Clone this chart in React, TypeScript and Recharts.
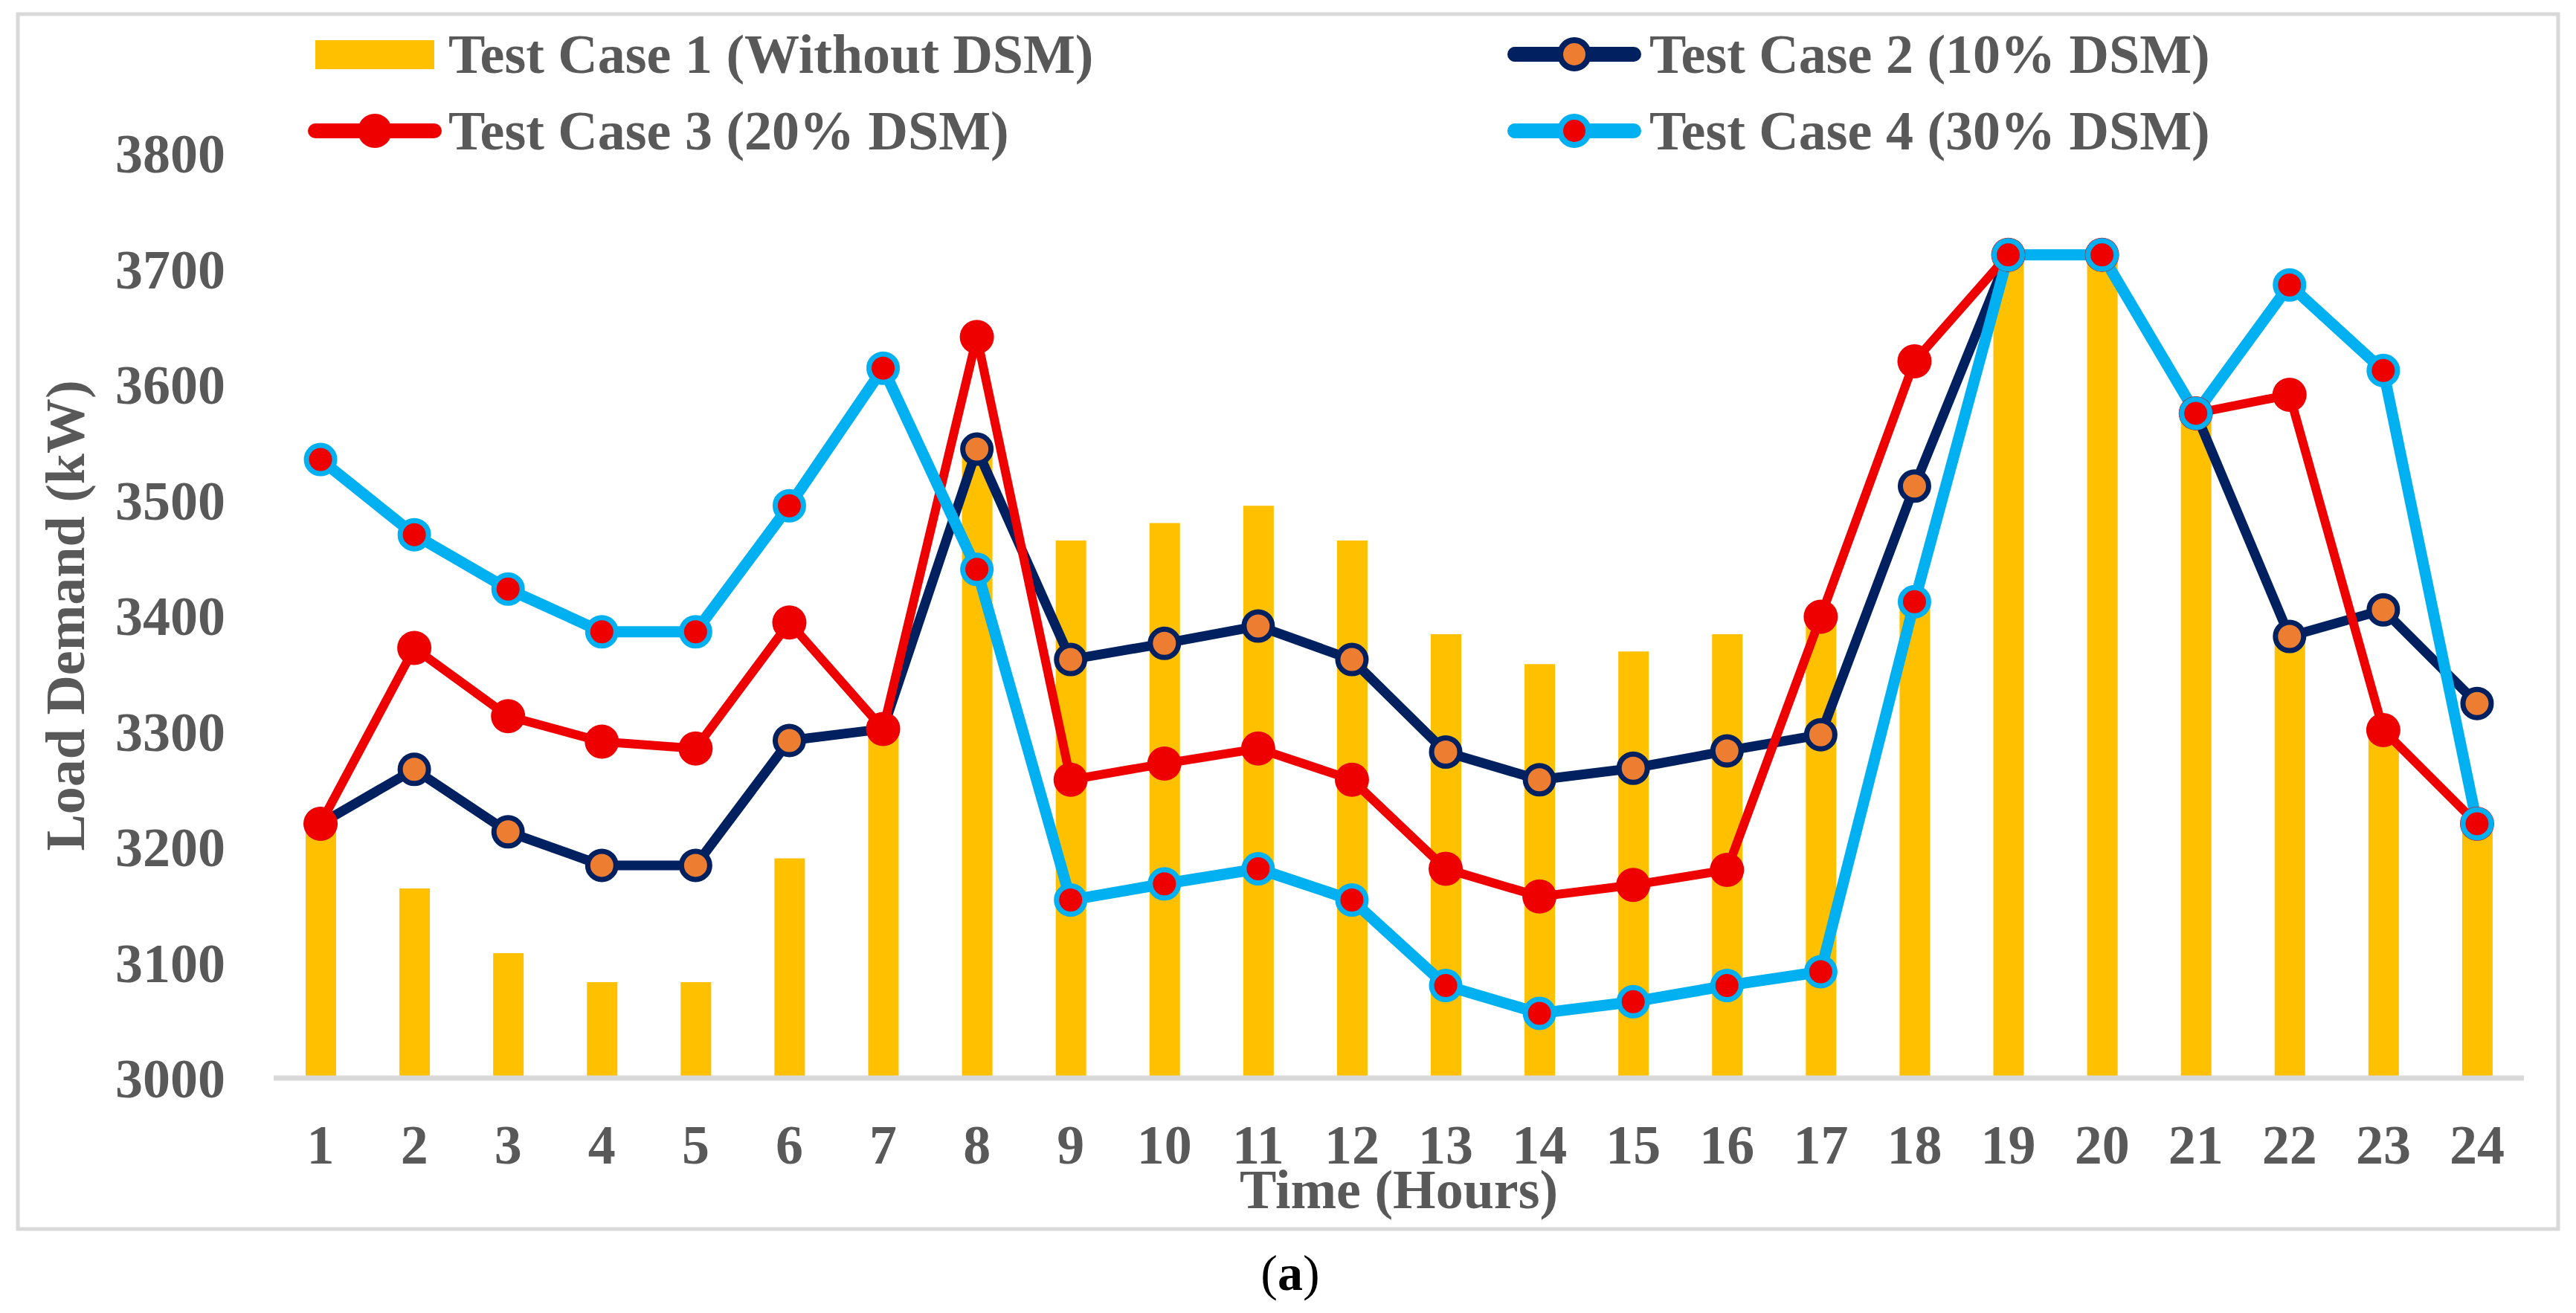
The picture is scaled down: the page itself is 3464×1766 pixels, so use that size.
import React from 'react';
import { ComposedChart, Bar, Line, XAxis, YAxis, Label } from 'recharts';

// hourly load demand (kW)
const hours = [1, 2, 3, 4, 5, 6, 7, 8, 9, 10, 11, 12, 13, 14, 15, 16, 17, 18, 19, 20, 21, 22, 23, 24];
const withoutDsm = [3220, 3164, 3108, 3083, 3083, 3190, 3302, 3545, 3465, 3480, 3495, 3465, 3384, 3358, 3369, 3384, 3399, 3412, 3712, 3712, 3575, 3382, 3301, 3220];
const dsm10 = [3220, 3267, 3213, 3184, 3184, 3292, 3302, 3544, 3362, 3376, 3391, 3362, 3282, 3258, 3268, 3283, 3297, 3512, 3712, 3712, 3575, 3382, 3405, 3324];
const dsm20 = [3220, 3372, 3313, 3291, 3285, 3394, 3302, 3641, 3258, 3272, 3285, 3258, 3181, 3157, 3167, 3180, 3399, 3620, 3712, 3712, 3575, 3591, 3301, 3220];
const dsm30 = [3535, 3470, 3423, 3386, 3386, 3495, 3614, 3440, 3154, 3168, 3181, 3154, 3080, 3056, 3066, 3080, 3092, 3412, 3712, 3712, 3575, 3686, 3612, 3220];
const yTicks = [3000, 3100, 3200, 3300, 3400, 3500, 3600, 3700, 3800];

const seriesNames = ['Test Case 1 (Without DSM)', 'Test Case 2 (10% DSM)', 'Test Case 3 (20% DSM)', 'Test Case 4 (30% DSM)'];

const FONT = "'Liberation Serif', 'Times New Roman', serif";
const GRAY = '#595959';
const GOLD = '#FFC000';
const NAVY = '#002060';
const ORANGE = '#ED7D31';
const RED = '#EE0000';
const CYAN = '#00B0F0';

const W = 3464;
const H = 1766;

const data = hours.map((hour, i) => ({
  hour,
  tc1: withoutDsm[i],
  tc2: dsm10[i],
  tc3: dsm20[i],
  tc4: dsm30[i],
}));

const textStyle = { fill: GRAY, fontSize: 74, fontWeight: 'bold' as const, fontFamily: FONT };

const LegendMarker = ({ x, y, line, fill, stroke, r, sw }: any) => (
  <g>
    <line x1={x - 80} y1={y} x2={x + 80} y2={y} stroke={line} strokeWidth={20} strokeLinecap="round" />
    <circle cx={x} cy={y} r={r} fill={fill} stroke={stroke} strokeWidth={sw} />
  </g>
);

const Overlay = () => (
  <svg width={W} height={H} style={{ position: 'absolute', left: 0, top: 0, pointerEvents: 'none' }}>
    <rect x={24} y={19} width={3416} height={1634} fill="none" stroke="#D9D9D9" strokeWidth={5} />

    {/* legend, two rows of two */}
    <rect x={424} y={54} width={160} height={39} fill={GOLD} />
    <text x={603} y={98} style={textStyle}>{seriesNames[0]}</text>

    <LegendMarker x={2117} y={128 - 55} line={NAVY} fill={ORANGE} stroke={NAVY} r={19} sw={8} />
    <text x={2218} y={98} style={textStyle}>{seriesNames[1]}</text>

    <LegendMarker x={504} y={176} line={RED} fill={RED} stroke={RED} r={23} sw={0} />
    <text x={603} y={201} style={textStyle}>{seriesNames[2]}</text>

    <LegendMarker x={2117} y={176} line={CYAN} fill={RED} stroke={CYAN} r={19} sw={8} />
    <text x={2218} y={201} style={textStyle}>{seriesNames[3]}</text>

    <text x={1735} y={1735} textAnchor="middle" style={{ fill: '#000', fontSize: 68, fontFamily: FONT }}>
      (<tspan fontWeight="bold">a</tspan>)
    </text>
  </svg>
);

export default function App() {
  return (
    <div style={{ position: 'relative', width: W, height: H, background: '#fff' }}>
      <style>{'body{margin:0}'}</style>
      <ComposedChart width={W} height={H} data={data} margin={{ top: 206, right: 70, bottom: 0, left: 0 }}>
        <XAxis
          dataKey="hour"
          height={316}
          interval={0}
          tickLine={false}
          tickSize={0}
          tickMargin={62}
          axisLine={{ stroke: '#D9D9D9', strokeWidth: 7 }}
          tick={textStyle}
        >
          <Label
            content={({ viewBox }: any) => (
              <text x={viewBox.x + viewBox.width / 2} y={1625} textAnchor="middle" style={textStyle}>
                Time (Hours)
              </text>
            )}
          />
        </XAxis>
        <YAxis
          width={368}
          domain={[3000, 3800]}
          ticks={yTicks}
          tickLine={false}
          tickSize={0}
          tickMargin={65}
          axisLine={false}
          tick={textStyle}
        >
          <Label
            content={({ viewBox }: any) => {
              const cy = viewBox.y + viewBox.height / 2;
              return (
                <text x={113} y={cy} transform={`rotate(-90 113 ${cy})`} textAnchor="middle" style={textStyle}>
                  Load Demand (kW)
                </text>
              );
            }}
          />
        </YAxis>
        <Bar dataKey="tc1" name={seriesNames[0]} fill={GOLD} barSize={41} isAnimationActive={false} />
        <Line
          dataKey="tc2"
          name={seriesNames[1]}
          stroke={NAVY}
          strokeWidth={13}
          dot={{ r: 19, fill: ORANGE, stroke: NAVY, strokeWidth: 7 }}
          activeDot={false}
          isAnimationActive={false}
        />
        <Line
          dataKey="tc3"
          name={seriesNames[2]}
          stroke={RED}
          strokeWidth={12}
          dot={{ r: 23, fill: RED, stroke: RED, strokeWidth: 0 }}
          activeDot={false}
          isAnimationActive={false}
        />
        <Line
          dataKey="tc4"
          name={seriesNames[3]}
          stroke={CYAN}
          strokeWidth={15}
          dot={{ r: 19, fill: RED, stroke: CYAN, strokeWidth: 7 }}
          activeDot={false}
          isAnimationActive={false}
        />
      </ComposedChart>
      <Overlay />
    </div>
  );
}
